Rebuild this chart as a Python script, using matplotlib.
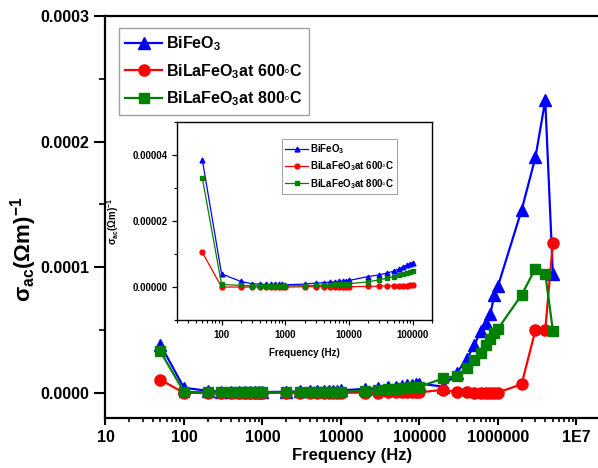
import numpy as np
import matplotlib
matplotlib.use("Agg")
import matplotlib.pyplot as plt
from matplotlib.ticker import FixedLocator, NullFormatter, LogLocator, MultipleLocator, FormatStrFormatter

plt.rcParams['font.family'] = ['Liberation Sans', 'DejaVu Sans']
plt.rcParams['font.weight'] = 'bold'
plt.rcParams['mathtext.fontset'] = 'custom'
plt.rcParams['mathtext.rm'] = 'Liberation Sans:bold'
plt.rcParams['mathtext.bf'] = 'Liberation Sans:bold'
plt.rcParams['mathtext.it'] = 'Liberation Sans:bold'

# frequency points (Hz)
freq = [50, 100, 200, 300, 400, 500, 600, 700, 800, 900,
        1000, 2000, 3000, 4000, 5000, 6000, 7000, 8000, 9000,
        10000, 20000, 30000, 40000, 50000, 60000, 70000, 80000, 90000,
        100000, 200000, 300000, 400000, 500000, 600000, 700000, 800000, 900000,
        1000000, 2000000, 3000000, 4000000, 5000000]

# conductivity values, in units of 1e-6 (Ohm m)^-1
bifeo3 = [38.5, 4.0, 1.7, 1.0, 0.9, 0.8, 0.8, 0.8, 0.8, 0.8,
          0.7, 0.9, 1.2, 1.3, 1.5, 1.6, 1.7, 1.8, 1.9,
          2.0, 3.2, 3.7, 4.3, 4.8, 5.5, 6.1, 6.6, 7.1,
          7.4, 5.0, 16.0, 27.0, 38.0, 49.0, 56.0, 63.0, 78.0,
          85.0, 145.6, 187.5, 233.0, 95.0]
bila600 = [10.5, 0.0, 0.0, 0.0, 0.0, 0.0, 0.0, 0.0, 0.0, 0.0,
           0.0, 0.1, 0.1, 0.1, 0.1, 0.1, 0.1, 0.1, 0.1,
           0.1, 0.2, 0.3, 0.35, 0.4, 0.4, 0.45, 0.45, 0.5,
           0.5, 2.4, 0.4, 0.4, 0.3, 0.3, 0.3, 0.3, 0.3,
           0.3, 6.9, 50.0, 50.0, 119.0]
bila800 = [33.0, 0.8, 0.5, 0.4, 0.4, 0.4, 0.4, 0.4, 0.4, 0.4,
           0.4, 0.4, 0.5, 0.6, 0.7, 0.8, 0.85, 0.9, 0.95,
           1.0, 1.6, 2.2, 2.7, 3.2, 3.6, 4.0, 4.4, 4.7,
           4.9, 11.5, 13.5, 19.5, 26.0, 32.0, 38.0, 43.0, 48.0,
           51.0, 78.0, 99.0, 95.0, 49.6]

n_inset = 29  # inset shows data up to 100 kHz

labels = ['BiFeO$_3$', 'BiLaFeO$_3$at 600\u25e6C', 'BiLaFeO$_3$at 800\u25e6C']
colors = ['#0000ff', '#ff0000', '#008000']
markers = ['^', 'o', 's']

f = np.array(freq)
series = [np.array(bifeo3) * 1e-6, np.array(bila600) * 1e-6, np.array(bila800) * 1e-6]

fig = plt.figure(figsize=(5.98, 4.68), dpi=100)
ax = fig.add_axes([0.1764, 0.1068, 0.8236, 0.859])

msizes = [9, 8, 7]
for y, c, m, lab, ms in zip(series, colors, markers, labels, msizes):
    ax.plot(f, y, color=c, marker=m, markersize=ms, linewidth=1.6, label=lab)

ax.set_xscale('log')
ax.set_xlim(10, 1.88e7)
ax.set_ylim(-0.00002, 0.0003)
ax.xaxis.set_major_locator(FixedLocator([1e1, 1e2, 1e3, 1e4, 1e5, 1e6, 1e7]))
ax.set_xticklabels(['10', '100', '1000', '10000', '100000', '1000000', '1E7'])
ax.xaxis.set_minor_locator(LogLocator(base=10, subs=np.arange(2, 10)))
ax.xaxis.set_minor_formatter(NullFormatter())
ax.yaxis.set_major_locator(MultipleLocator(0.0001))
ax.yaxis.set_minor_locator(MultipleLocator(0.00005))
ax.yaxis.set_major_formatter(FormatStrFormatter('%.4f'))
ax.tick_params(axis='both', which='major', labelsize=11.5, width=1.5)
ax.tick_params(axis='y', which='major', length=8)
ax.tick_params(axis='y', which='minor', length=4, width=1.2)
ax.tick_params(axis='x', which='major', length=5)
ax.tick_params(axis='x', which='minor', length=3, width=1.2)
for sp in ['left', 'bottom', 'top']:
    ax.spines[sp].set_linewidth(1.6)
ax.spines['right'].set_visible(False)

ax.set_xlabel('Frequency (Hz)', fontsize=12, fontweight='bold', labelpad=2)
ax.set_ylabel('\u03c3$_{ac}$(\u03a9m)$^{-1}$', fontsize=16, fontweight='bold')
ax.yaxis.set_label_coords(-0.135, 0.42)

leg = ax.legend(loc='upper left', bbox_to_anchor=(0.199, 0.940), bbox_transform=fig.transFigure,
                fontsize=11.5, frameon=True, fancybox=False, edgecolor='#888888',
                handlelength=2.3, handletextpad=0.25, labelspacing=0.55, borderpad=0.4,
                borderaxespad=0)
leg.get_frame().set_linewidth(1.0)

# inset
ins = fig.add_axes([0.296, 0.3162, 0.4264, 0.4225])
for y, c, m, lab in zip(series, colors, markers, labels):
    ins.plot(f[:n_inset], y[:n_inset], color=c, marker=m, markersize=3.5, linewidth=0.9, label=lab)
ins.set_xscale('log')
ins.set_xlim(20, 2e5)
ins.set_ylim(-0.00001, 0.00005)
ins.xaxis.set_major_locator(FixedLocator([1e2, 1e3, 1e4, 1e5]))
ins.set_xticklabels(['100', '1000', '10000', '100000'])
ins.xaxis.set_minor_locator(LogLocator(base=10, subs=np.arange(2, 10)))
ins.xaxis.set_minor_formatter(NullFormatter())
ins.yaxis.set_major_locator(MultipleLocator(0.00002))
ins.yaxis.set_minor_locator(MultipleLocator(0.00001))
ins.yaxis.set_major_formatter(FormatStrFormatter('%.5f'))
ins.tick_params(axis='both', which='major', labelsize=7, length=3.5, width=0.9)
ins.tick_params(axis='both', which='minor', length=2, width=0.8)
for sp in ins.spines.values():
    sp.set_linewidth(1.0)
ins.set_xlabel('Frequency (Hz)', fontsize=7, fontweight='bold', labelpad=6)
ins.set_ylabel('\u03c3$_{ac}$(\u03a9m)$^{-1}$', fontsize=7, fontweight='bold', labelpad=8)
ileg = ins.legend(loc='upper left', bbox_to_anchor=(0.4716, 0.703), bbox_transform=fig.transFigure,
                  fontsize=7, frameon=True, fancybox=False, edgecolor='#888888',
                  handlelength=2.3, handletextpad=0.2, labelspacing=0.35, borderpad=0.35,
                  borderaxespad=0)
ileg.get_frame().set_linewidth(0.7)

fig.savefig('out.png', dpi=100)
